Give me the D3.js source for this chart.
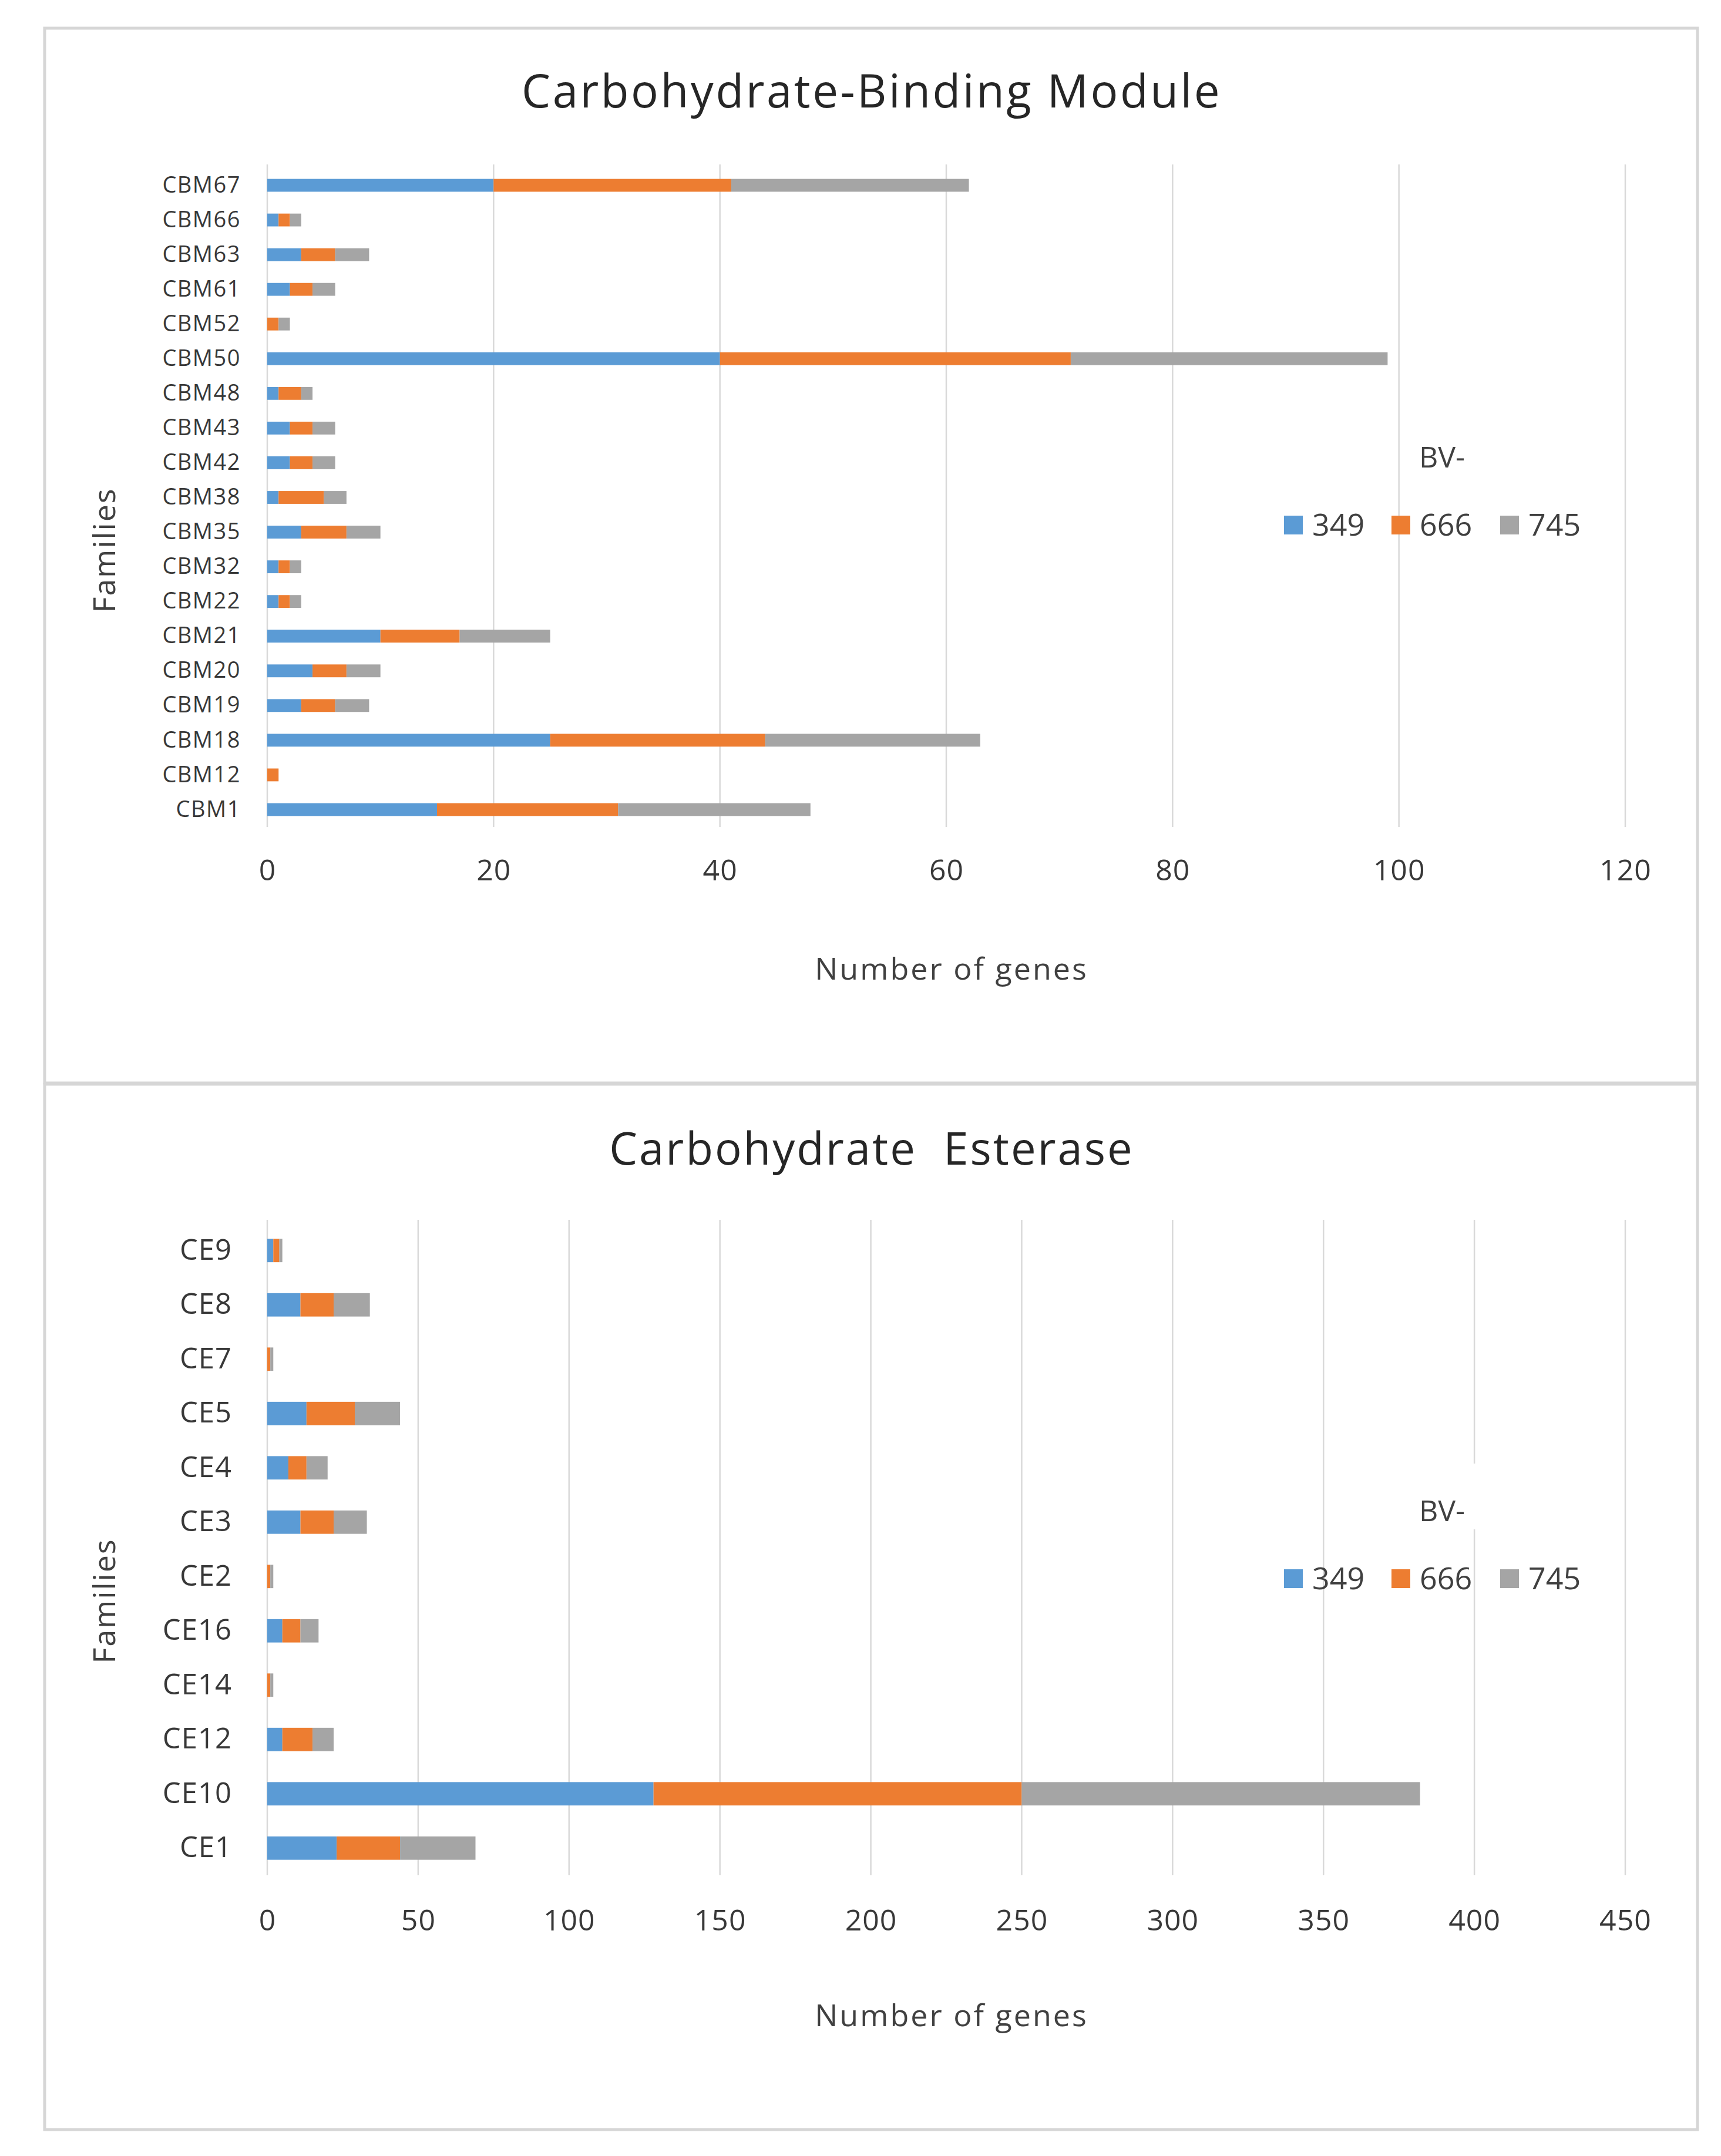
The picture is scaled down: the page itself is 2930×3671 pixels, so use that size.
<!DOCTYPE html>
<html>
<head>
<meta charset="utf-8">
<script src="https://cdn.jsdelivr.net/npm/d3@7"></script>
<style>
  html, body { margin: 0; padding: 0; background: #ffffff; }
  svg { display: block; font-family: "Open Sans", "DejaVu Sans", sans-serif; }
</style>
</head>
<body>
<svg id="chart" width="2930" height="3671"></svg>
<script>
// ---------- data ----------
const seriesNames = ["349", "666", "745"];
const seriesColors = ["#5b9bd5", "#ed7d31", "#a5a5a5"];
const legendTitle = "BV-";

const cbmTitle = "Carbohydrate-Binding Module";
const cbmFamilies = ["CBM67","CBM66","CBM63","CBM61","CBM52","CBM50","CBM48","CBM43","CBM42","CBM38",
                     "CBM35","CBM32","CBM22","CBM21","CBM20","CBM19","CBM18","CBM12","CBM1"];
const cbm349 = [20, 1, 3, 2, 0, 40, 1, 2, 2, 1, 3, 1, 1, 10, 4, 3, 25, 0, 15];
const cbm666 = [21, 1, 3, 2, 1, 31, 2, 2, 2, 4, 4, 1, 1, 7, 3, 3, 19, 1, 16];
const cbm745 = [21, 1, 3, 2, 1, 28, 1, 2, 2, 2, 3, 1, 1, 8, 3, 3, 19, 0, 17];
const cbmTicks = [0, 20, 40, 60, 80, 100, 120];

const ceTitle = "Carbohydrate  Esterase";
const ceFamilies = ["CE9","CE8","CE7","CE5","CE4","CE3","CE2","CE16","CE14","CE12","CE10","CE1"];
const ce349 = [2, 11, 0, 13, 7, 11, 0, 5, 0, 5, 128, 23];
const ce666 = [2, 11, 1, 16, 6, 11, 1, 6, 1, 10, 122, 21];
const ce745 = [1, 12, 1, 15, 7, 11, 1, 6, 1, 7, 132, 25];
const ceTicks = [0, 50, 100, 150, 200, 250, 300, 350, 400, 450];

const xTitle = "Number of genes";
const yTitle = "Families";

// ---------- drawing ----------
const svg = d3.select("#chart");
const textColor = "#404040";

function drawPanel(opt) {
  const g = svg.append("g");
  // panel frame
  g.append("rect")
    .attr("x", opt.box[0]).attr("y", opt.box[1])
    .attr("width", opt.box[2]).attr("height", opt.box[3])
    .attr("fill", "#ffffff").attr("stroke", "#d6d6d6").attr("stroke-width", 5);

  const x = d3.scaleLinear().domain([0, opt.ticks[opt.ticks.length - 1]]).range([455, 2767]);
  const y = d3.scaleBand().domain(opt.cats).range([opt.plotTop, opt.plotBottom]).paddingInner(opt.pad).paddingOuter(opt.pad / 2);

  // gridlines
  g.append("g").selectAll("line").data(opt.ticks).join("line")
    .attr("x1", d => x(d)).attr("x2", d => x(d))
    .attr("y1", opt.plotTop - 6).attr("y2", opt.plotBottom)
    .attr("stroke", "#d9d9d9").attr("stroke-width", 2.5);

  // stacked bars
  const rows = opt.cats.map((c, i) => {
    const o = { cat: c };
    seriesNames.forEach((s, k) => { o[s] = opt.vals[k][i]; });
    return o;
  });
  const stacked = d3.stack().keys(seriesNames)(rows);
  g.append("g").selectAll("g").data(stacked).join("g")
    .attr("fill", (d, k) => seriesColors[k])
    .selectAll("rect").data(d => d).join("rect")
    .attr("x", d => x(d[0]))
    .attr("width", d => Math.max(0, x(d[1]) - x(d[0])))
    .attr("y", d => y(d.data.cat))
    .attr("height", y.bandwidth());

  // y axis labels
  const yAxis = d3.axisLeft(y).tickSize(0).tickPadding(opt.labelPad);
  const ya = g.append("g").attr("transform", `translate(${x(0)},0)`).call(yAxis);
  ya.select(".domain").remove();
  ya.selectAll("text").attr("font-size", opt.catFont).attr("fill", "#383838")
    .attr("font-family", "'Open Sans', sans-serif").attr("letter-spacing", opt.catSpacing);

  // x axis labels
  const xAxis = d3.axisBottom(x).tickValues(opt.ticks).tickSize(0).tickPadding(0).tickFormat(d3.format("d"));
  const xa = g.append("g").attr("transform", `translate(0,${opt.tickY})`).call(xAxis);
  xa.select(".domain").remove();
  xa.selectAll("text").attr("font-size", 50).attr("fill", "#383838")
    .attr("font-family", "'Open Sans', sans-serif").attr("dy", "0.35em").attr("letter-spacing", 1);

  // titles
  g.append("text").attr("x", 1484).attr("y", opt.titleY).attr("text-anchor", "middle")
    .attr("font-size", opt.titleFont).attr("fill", "#262626").attr("letter-spacing", opt.titleSpacing)
    .style("white-space", "pre").text(opt.title);
  g.append("text").attr("x", 1620).attr("y", opt.xTitleY).attr("text-anchor", "middle")
    .attr("font-size", 52).attr("fill", textColor).attr("letter-spacing", 3).text(xTitle);
  g.append("text").attr("transform", `translate(196,${opt.yTitleY}) rotate(-90)`).attr("text-anchor", "middle")
    .attr("font-size", 52).attr("fill", textColor).attr("letter-spacing", 2).text(yTitle);

  // legend
  const lg = g.append("g");
  lg.append("rect").attr("x", 2395).attr("y", opt.legendY - 100).attr("width", 130).attr("height", 112).attr("fill", "#ffffff");
  lg.append("text").attr("x", 2455).attr("y", opt.legendY - 2).attr("text-anchor", "middle")
    .attr("font-size", 50).attr("fill", textColor).text(legendTitle);
  const sqX = [2186, 2369, 2554];
  seriesNames.forEach((s, k) => {
    lg.append("rect").attr("x", sqX[k]).attr("y", opt.legendY + 80).attr("width", 32).attr("height", 32)
      .attr("fill", seriesColors[k]);
    lg.append("text").attr("x", sqX[k] + 48).attr("y", opt.legendY + 114)
      .attr("font-size", 52).attr("fill", textColor).text(s);
  });
}

drawPanel({
  box: [76, 48, 2814, 1796],
  cats: cbmFamilies, vals: [cbm349, cbm666, cbm745], ticks: cbmTicks,
  plotTop: 286, plotBottom: 1408, pad: 0.63,
  catFont: 38, catSpacing: 1.5, labelPad: 45,
  tickY: 1481, titleY: 183, xTitleY: 1668, yTitleY: 937,
  title: cbmTitle, titleFont: 78, titleSpacing: 3.5, legendY: 798
});

drawPanel({
  box: [76, 1846, 2814, 1780],
  cats: ceFamilies, vals: [ce349, ce666, ce745], ticks: ceTicks,
  plotTop: 2083, plotBottom: 3193, pad: 0.57,
  catFont: 49, catSpacing: 1, labelPad: 60,
  tickY: 3269, titleY: 1983, xTitleY: 3450, yTitleY: 2726,
  title: ceTitle, titleFont: 76, titleSpacing: 3, legendY: 2592
});
</script>
</body>
</html>
